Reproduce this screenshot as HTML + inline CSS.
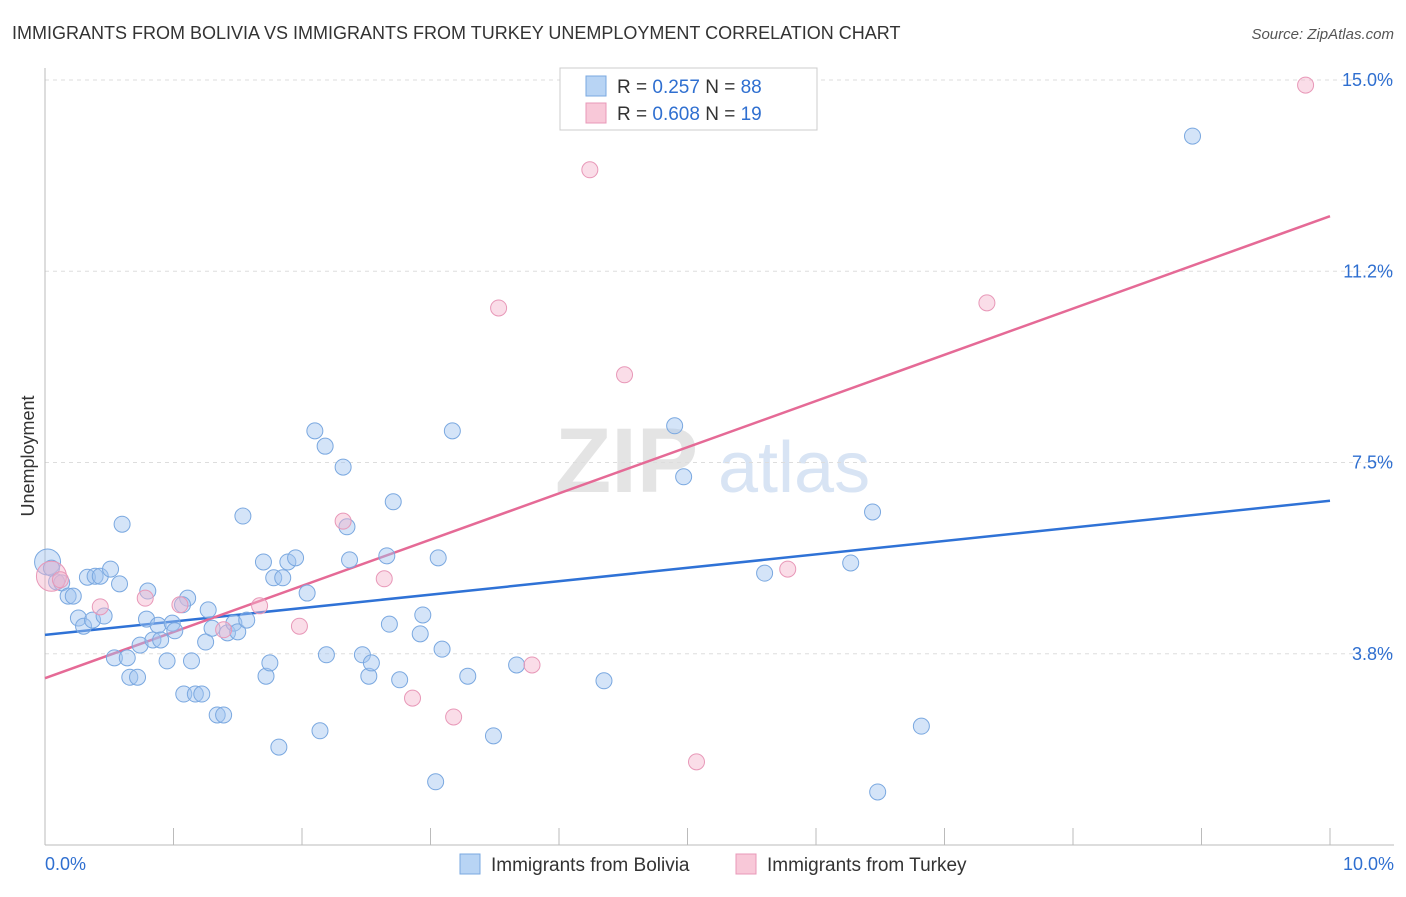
<!DOCTYPE html>
<html><head><meta charset="utf-8"><style>
body{margin:0;background:#fff;font-family:"Liberation Sans",sans-serif;}
svg text{font-family:"Liberation Sans",sans-serif;}
</style></head><body>
<svg width="1406" height="892" viewBox="0 0 1406 892">
<text x="12" y="39" font-size="18" fill="#333">IMMIGRANTS FROM BOLIVIA VS IMMIGRANTS FROM TURKEY UNEMPLOYMENT CORRELATION CHART</text>
<text x="1394" y="39" font-size="15" fill="#555" text-anchor="end" font-style="italic">Source: ZipAtlas.com</text>
<g>
<text x="555" y="492" font-size="92" fill="#e4e4e4" font-family="Liberation Serif" font-weight="bold">ZIP</text>
<text x="718" y="492" font-size="72" fill="#d8e4f4">atlas</text>
</g>
<g id="grid"></g>
<g id="axes"></g>
<text x="34" y="456" font-size="18" fill="#333" text-anchor="middle" transform="rotate(-90 34 456)">Unemployment</text>
<g id="lines"></g>
<g id="pts"></g>
<g>
<rect x="560" y="68" width="257" height="62" fill="#fff" stroke="#ccc"/>
<rect x="586" y="76" width="20" height="20" fill="#b8d4f4" stroke="#7aa8e0"/>
<rect x="586" y="103" width="20" height="20" fill="#f8c8d8" stroke="#e898b8"/>
<text x="617" y="93" font-size="19" fill="#333">R = <tspan fill="#2f6fd0">0.257</tspan>   N = <tspan fill="#2f6fd0">88</tspan></text>
<text x="617" y="120" font-size="19" fill="#333">R = <tspan fill="#2f6fd0">0.608</tspan>   N = <tspan fill="#2f6fd0">19</tspan></text>
</g>
<g>
<rect x="460" y="854" width="20" height="20" fill="#b8d4f4" stroke="#7aa8e0"/>
<text x="491" y="871" font-size="19" fill="#333">Immigrants from Bolivia</text>
<rect x="736" y="854" width="20" height="20" fill="#f8c8d8" stroke="#e898b8"/>
<text x="767" y="871" font-size="19" fill="#333">Immigrants from Turkey</text>
</g>
</svg>
<script>
const yTicks=[3.75,7.5,11.25,15];
const yTickLabels=["3.8%","7.5%","11.2%","15.0%"];
const xTickLabels=["0.0%","10.0%"];
const blueX=[0.02,0.05,0.09,0.13,0.18,0.22,0.26,0.30,0.33,0.37,0.39,0.43,0.46,0.51,0.54,0.58,0.60,0.64,0.66,0.72,0.74,0.79,0.80,0.84,0.88,0.90,0.95,0.99,1.01,1.08,1.11,1.07,1.14,1.17,1.22,1.25,1.27,1.30,1.34,1.39,1.42,1.47,1.50,1.54,1.57,1.70,1.72,1.75,1.78,1.82,1.85,1.89,1.95,2.04,2.10,2.14,2.18,2.19,2.32,2.35,2.37,2.47,2.52,2.54,2.66,2.68,2.71,2.76,2.92,2.94,3.04,3.06,3.09,3.17,3.29,3.49,3.67,4.35,4.90,4.97,5.60,6.27,6.44,6.48,6.82,8.93];
const blueY=[5.55,5.43,5.16,5.14,4.88,4.88,4.45,4.29,5.25,4.41,5.27,5.27,4.49,5.41,3.67,5.12,6.29,3.67,3.29,3.29,3.92,4.43,4.98,4.02,4.31,4.02,3.61,4.35,4.20,2.96,4.84,4.71,3.61,2.96,2.96,3.98,4.61,4.25,2.55,2.55,4.16,4.35,4.18,6.45,4.41,5.55,3.31,3.57,5.24,1.92,5.24,5.55,5.63,4.94,8.12,2.24,7.82,3.73,7.41,6.24,5.59,3.73,3.31,3.57,5.67,4.33,6.73,3.24,4.14,4.51,1.24,5.63,3.84,8.12,3.31,2.14,3.53,3.22,8.22,7.22,5.33,5.53,6.53,1.04,2.33,13.90];
const pinkX=[0.05,0.12,0.43,0.78,1.05,1.39,1.67,1.98,2.32,2.64,2.86,3.18,3.53,3.79,4.24,4.51,5.07,5.78,7.33,9.81];
const pinkY=[5.27,5.20,4.67,4.84,4.71,4.22,4.69,4.29,6.35,5.22,2.88,2.51,10.53,3.53,13.24,9.22,1.63,5.41,10.63,14.90];
const blueLine=[4.12,6.75];
const pinkLine=[3.27,12.33];
const NS="http://www.w3.org/2000/svg";
const X0=45,X1=1330,Y0=845,YS=51.0;
const sx=v=>X0+(X1-X0)*v/10, sy=v=>Y0-v*YS;
function mk(tag,attrs,parent){const e=document.createElementNS(NS,tag);for(const k in attrs)e.setAttribute(k,attrs[k]);parent.appendChild(e);return e;}
const grid=document.getElementById('grid'),axes=document.getElementById('axes');
yTicks.forEach((t,i)=>{
 const l=mk('line',{x1:X0,x2:1394,y1:sy(t),y2:sy(t),stroke:'#ddd','stroke-dasharray':'4,4'},grid);
 
 
 const tx=mk('text',{x:1393,y:sy(t)+6,'font-size':18,fill:'#2f6fd0','text-anchor':'end'},axes);
 tx.textContent=yTickLabels[i];
 
 
});
mk('line',{x1:X0,x2:X0,y1:68,y2:Y0,stroke:'#bbb'},axes);
mk('line',{x1:X0,x2:1394,y1:Y0,y2:Y0,stroke:'#bbb'},axes);
for(let i=1;i<=10;i++){const t=mk('line',{x1:sx(i),x2:sx(i),y1:Y0,y2:828,stroke:'#bbb'},axes);
 
 }
const xl0=mk('text',{x:45,y:870,'font-size':18,fill:'#2f6fd0'},axes);xl0.textContent=xTickLabels[0];


const xl1=mk('text',{x:1394,y:870,'font-size':18,fill:'#2f6fd0','text-anchor':'end'},axes);xl1.textContent=xTickLabels[1];


const pts=document.getElementById('pts');
blueX.forEach((x,i)=>{const c=mk('circle',{cx:sx(x),cy:sy(blueY[i]),r:i===0?13:8,fill:'rgba(160,196,240,0.45)',stroke:'#7aa8e0','stroke-width':1},pts);
 
 });
pinkX.forEach((x,i)=>{const c=mk('circle',{cx:sx(x),cy:sy(pinkY[i]),r:i===0?15:8,fill:'rgba(244,180,204,0.45)',stroke:'#e898b8','stroke-width':1},pts);
 
 });
const lines=document.getElementById('lines');
const bl=mk('line',{x1:sx(0),y1:sy(blueLine[0]),x2:sx(10),y2:sy(blueLine[1]),stroke:'#2f72d6','stroke-width':2.5},lines);


const pl=mk('line',{x1:sx(0),y1:sy(pinkLine[0]),x2:sx(10),y2:sy(pinkLine[1]),stroke:'#e56a96','stroke-width':2.5},lines);


</script>
</body></html>
